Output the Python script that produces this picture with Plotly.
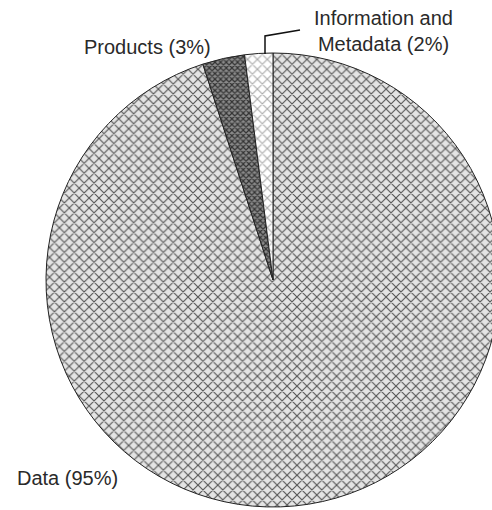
import plotly.graph_objects as go

labels = ["Data", "Products", "Information and Metadata"]
values = [95, 3, 2]
label_texts = ["Data (95%)", "Products (3%)", "Information and<br>Metadata (2%)"]

W, H = 520, 510

def px(x):
    return x / W

def py(y):
    return 1 - y / H

fig = go.Figure(go.Pie(
    labels=labels,
    values=values,
    sort=False,
    direction="clockwise",
    rotation=0,
    textinfo="none",
    hoverinfo="label+percent",
    showlegend=False,
    domain=dict(x=[px(46), px(500)], y=[py(507), py(53)]),
    marker=dict(
        colors=["#e6e6e6", "#777777", "#f2f2f2"],
        line=dict(color="#222222", width=1),
        pattern=dict(
            shape=["x", "x", "x"],
            fgcolor=["#555555", "#333333", "#aaaaaa"],
            bgcolor=["#e4e4e4", "#8a8a8a", "#ffffff"],
            size=[7, 4, 7],
            solidity=[0.3, 0.5, 0.3],
        ),
    ),
))

font = dict(family="Liberation Sans, Arial, sans-serif", size=20, color="#2a2a2a")
anns = [
    dict(x=px(67), y=py(478), text=label_texts[0], align="center"),
    dict(x=px(147), y=py(47), text=label_texts[1], align="center"),
    dict(x=px(383), y=py(31), text=label_texts[2], align="center"),
]
for a in anns:
    a.update(xref="paper", yref="paper", showarrow=False, font=font,
             xanchor="center", yanchor="middle")

leader = dict(type="path", xref="paper", yref="paper",
              path=f"M {px(265)} {py(54)} L {px(265)} {py(36)} L {px(300)} {py(30)}",
              line=dict(color="#111111", width=1.5))

fig.update_layout(
    width=W, height=H,
    margin=dict(l=0, r=0, t=0, b=0),
    paper_bgcolor="white",
    plot_bgcolor="white",
    annotations=anns,
    shapes=[leader],
)

fig.write_html("out.html",
               config={"displayModeBar": False},
               post_script="document.body.style.margin='0';document.body.style.overflow='hidden';")
